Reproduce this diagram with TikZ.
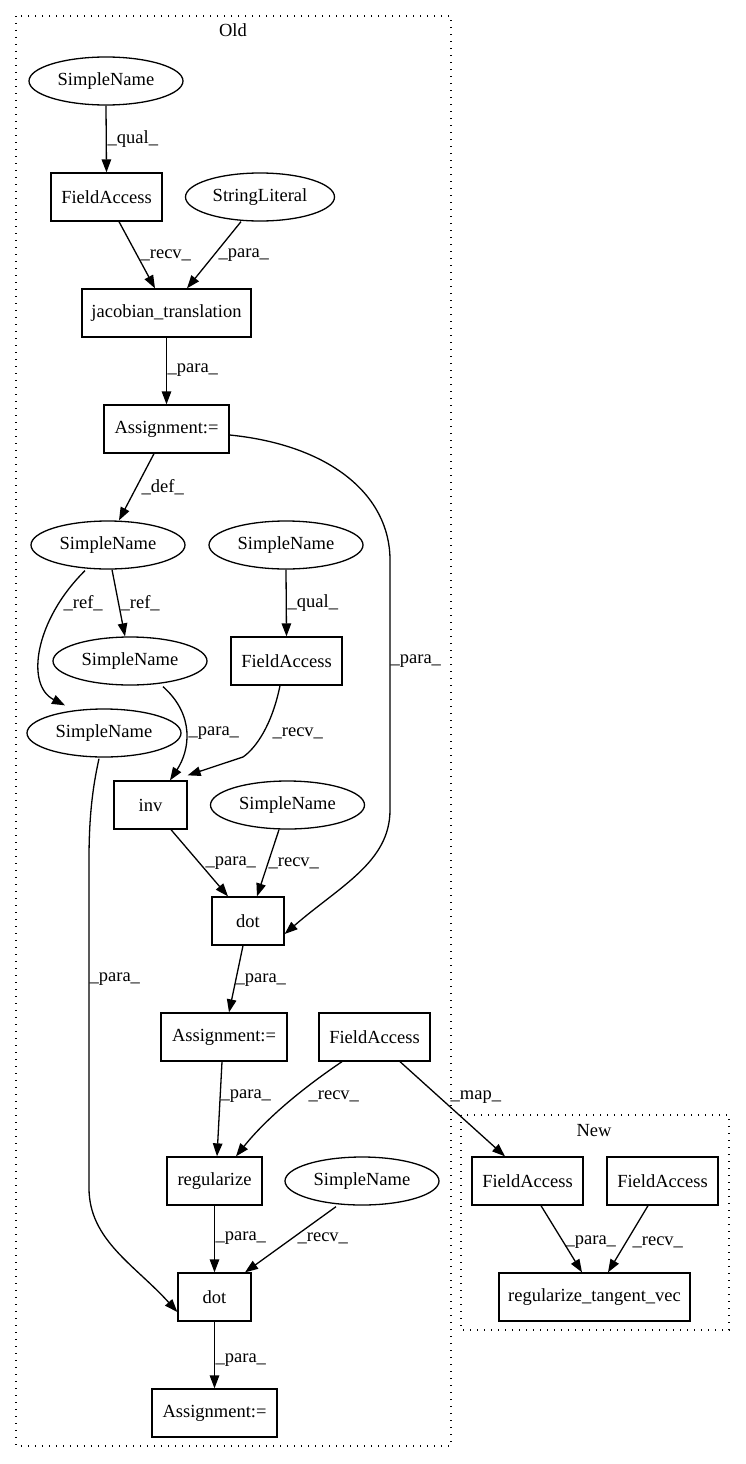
\documentclass[tikz,border=0pt]{standalone}
\usepackage{fontspec}
\setmainfont{Liberation Serif}
\usetikzlibrary{shapes.geometric,arrows.meta}
\begin{document}
\begin{tikzpicture}[x=1pt,y=-1pt,
  every node/.style={font=\fontsize{18.5}{22}\selectfont},
  boxnode/.style={draw,rectangle,line width=1.3pt,minimum height=48pt,inner sep=0pt},
  ellnode/.style={draw,ellipse,line width=1.3pt,minimum width=154pt,minimum height=48pt,inner sep=0pt},
  edge/.style={line width=1.3pt,-{Triangle[length=13pt,width=9.5pt]}},
  lbl/.style={anchor=west,inner sep=0pt},
  cluster/.style={line width=1.4pt,dash pattern=on 1.4pt off 5.6pt}]
\useasboundingbox (0,0) rectangle (745,1464);
% clusters
\draw[cluster] (16,16) rectangle (451,1446);
\node (oldlbl) at (233,30) {Old};
\draw[cluster] (461,1115) rectangle (729,1330);
\node (newlbl) at (594,1131) {New};
% nodes
\node[ellnode] (sn1) at (106,81) {SimpleName};
\node[boxnode,minimum width=111pt] (fa1) at (106.5,197) {FieldAccess};
\node[ellnode,minimum width=149pt] (sl) at (260,197) {StringLiteral};
\node[boxnode,minimum width=169pt] (jt) at (166.5,313) {jacobian\_translation};
\node[boxnode,minimum width=125pt] (a1) at (166.5,429) {Assignment:=};
\node[ellnode] (sn2) at (108,545) {SimpleName};
\node[ellnode] (sn3) at (286,545) {SimpleName};
\node[ellnode] (sn4) at (130,661) {SimpleName};
\node[boxnode,minimum width=111pt] (fa2) at (286.5,661) {FieldAccess};
\node[ellnode] (sn5) at (104,733) {SimpleName};
\node[boxnode,minimum width=73pt] (inv) at (150.5,805) {inv};
\node[ellnode] (sn6) at (287.5,805) {SimpleName};
\node[boxnode,minimum width=72pt] (dot1) at (248,921) {dot};
\node[boxnode,minimum width=126pt] (a2) at (224,1037) {Assignment:=};
\node[boxnode,minimum width=111pt] (fa3) at (374.5,1037) {FieldAccess};
\node[boxnode,minimum width=95pt] (reg) at (214.5,1181) {regularize};
\node[ellnode] (sn7) at (362,1181) {SimpleName};
\node[boxnode,minimum width=73pt] (dot2) at (214.5,1297) {dot};
\node[boxnode,minimum width=125pt] (a3) at (214.5,1413) {Assignment:=};
\node[boxnode,minimum width=111pt] (nfa1) at (527.5,1181) {FieldAccess};
\node[boxnode,minimum width=111pt] (nfa2) at (662.5,1181) {FieldAccess};
\node[boxnode,minimum width=191pt] (rtv) at (594.5,1297) {regularize\_tangent\_vec};
% edges
\draw[edge] (sn1.south) -- (fa1.north) node[lbl,at={(107,139)}] {\_qual\_};
\draw[edge] ([xshift=12.5pt]fa1.south) -- ([xshift=-11.5pt]jt.north) node[lbl,at={(140,255)}] {\_recv\_};
\draw[edge] ([xshift=-19pt]sl.south) -- ([xshift=20.5pt]jt.north) node[lbl,at={(218,255)}] {\_para\_};
\draw[edge] (jt.south) -- (a1.north) node[lbl,at={(167,370)}] {\_para\_};
\draw[edge] ([xshift=-12.5pt]a1.south) -- ([xshift=11pt]sn2.north) node[lbl,at={(141,487)}] {\_def\_};
\draw[edge] ([yshift=-6pt]a1.east) .. controls (330,445) and (390,495) .. (390,560) -- (390,810)
  .. controls (390,862) and (340,886) .. ([yshift=-13pt]dot1.east) node[lbl,at={(390,661)}] {\_para\_};
\draw[edge] ([xshift=-23pt,yshift=-1pt]sn2.south) .. controls (35,620) and (25,685) .. ([xshift=-39pt,yshift=3pt]sn5.north) node[lbl,at={(63,603)}] {\_ref\_};
\draw[edge] ([xshift=4pt]sn2.south) -- ([xshift=-5pt]sn4.north) node[lbl,at={(120,603)}] {\_ref\_};
\draw[edge] (sn3.south) -- (fa2.north) node[lbl,at={(287,603)}] {\_qual\_};
\draw[edge] ([xshift=33pt,yshift=-1pt]sn4.south) .. controls (195,715) and (190,750) .. ([xshift=19.5pt]inv.north) node[lbl,at={(188,733)}] {\_para\_};
\draw[edge] ([xshift=-6.5pt]fa2.south) .. controls (272,725) and (256,748) .. (243,757) -- ([yshift=5pt]inv.north east) node[lbl,at={(272,733)}] {\_recv\_};
\draw[edge] ([xshift=20.5pt]inv.south) -- ([xshift=-20pt]dot1.north) node[lbl,at={(205,863)}] {\_para\_};
\draw[edge] ([xshift=-8.5pt]sn6.south) -- ([xshift=9pt]dot1.north) node[lbl,at={(268,863)}] {\_recv\_};
\draw[edge] ([xshift=-5pt,yshift=-1pt]sn5.south) .. controls (92,790) and (89,820) .. (89,860) -- (89,1188)
  .. controls (89,1240) and (135,1265) .. ([yshift=-15pt]dot2.west) node[lbl,at={(89,979)}] {\_para\_};
\draw[edge] ([xshift=-5pt]dot1.south) -- ([xshift=5pt]a2.north) node[lbl,at={(235,980)}] {\_para\_};
\draw[edge] ([xshift=-2pt]a2.south) -- ([xshift=2.5pt]reg.north) node[lbl,at={(220,1096)}] {\_para\_};
\draw[edge] ([xshift=-32.5pt]fa3.south) .. controls (300,1090) and (265,1120) .. ([xshift=21.5pt]reg.north) node[lbl,at={(308,1096)}] {\_recv\_};
\draw[edge] ([xshift=25.5pt]fa3.south) -- ([xshift=-22.5pt]nfa1.north) node[lbl,at={(450,1097)}] {\_map\_};
\draw[edge] (reg.south) -- (dot2.north) node[lbl,at={(215,1238)}] {\_para\_};
\draw[edge] ([xshift=-26pt,yshift=-1pt]sn7.south) -- ([xshift=30.5pt]dot2.north) node[lbl,at={(297,1238)}] {\_recv\_};
\draw[edge] (dot2.south) -- (a3.north) node[lbl,at={(215,1360)}] {\_para\_};
\draw[edge] ([xshift=13.5pt]nfa1.south) -- ([xshift=-12.5pt]rtv.north) node[lbl,at={(565,1242)}] {\_para\_};
\draw[edge] ([xshift=-14.5pt]nfa2.south) -- ([xshift=13.5pt]rtv.north) node[lbl,at={(632,1242)}] {\_recv\_};
\end{tikzpicture}
\end{document}
